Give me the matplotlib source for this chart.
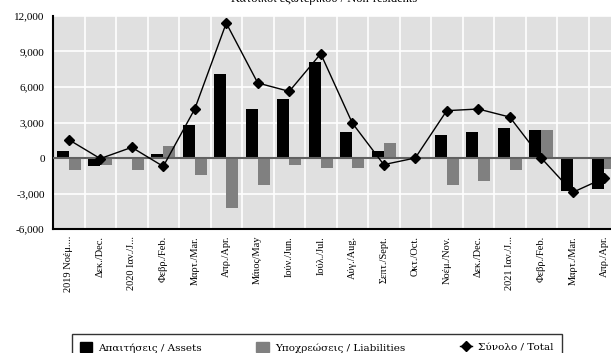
import numpy as np
import matplotlib.pyplot as plt
from matplotlib.patches import Patch
from matplotlib.lines import Line2D
from matplotlib.ticker import FuncFormatter, MultipleLocator

plt.rcParams['font.family'] = ['Liberation Serif', 'DejaVu Serif']

# μήνες / months
labels = ['2019 Νοέμ....', 'Δεκ./Dec.', '2020 Ιαν./J...', 'Φεβρ./Feb.', 'Μαρτ./Mar.',
          'Απρ./Apr.', 'Μάιος/May', 'Ιούν./Jun.', 'Ιούλ./Jul.', 'Αύγ./Aug.',
          'Σεπτ./Sept.', 'Οκτ./Oct.', 'Νοέμ./Nov.', 'Δεκ./Dec.', '2021 Ιαν./J...',
          'Φεβρ./Feb.', 'Μαρτ./Mar.', 'Απρ./Apr.']
assets = [620, -700, 0, 370, 2820, 7120, 4170, 5010, 8080, 2220,
          620, 0, 1970, 2220, 2560, 2330, -2820, -2650]
liabilities = [-990, -570, -990, 1040, -1410, -4230, -2250, -560, -880, -880,
               1290, 0, -2250, -1980, -990, 2330, 0, -930]
total = [1550, -50, 900, -710, 4140, 11400, 6340, 5630, 8810, 2960,
         -560, 0, 4000, 4140, 3460, 0, -2900, -1690]

title = 'Κάτοικοι εξωτερικού / Non-residents'

fig = plt.figure(figsize=(6.11, 3.53), dpi=100)
ax = fig.add_axes([53/611, 1 - 229/353, 567/611, 213/353])
ax.set_facecolor('#e0e0e0')

x = np.arange(len(labels))
w = 0.38
ax.bar(x - w/2, assets, w, color='black', zorder=3)
ax.bar(x + w/2, liabilities, w, color='#808080', zorder=3)
ax.axhline(0, color='#606060', lw=1.5, zorder=4)
ax.plot(x, total, color='black', lw=1, marker='D', ms=5, zorder=5)

ax.set_xlim(-0.5, len(labels) - 0.5)
ax.set_ylim(-6000, 12000)
ax.yaxis.set_major_locator(MultipleLocator(3000))
ax.yaxis.set_major_formatter(FuncFormatter(lambda v, p: f'{int(v):,}'))
ax.set_xticks(x)
ax.set_xticklabels(labels, rotation=90, fontsize=7.5)
ax.set_xticks(np.arange(-0.5, len(labels), 1), minor=True)
ax.tick_params(axis='both', which='both', length=0)
ax.tick_params(axis='y', labelsize=8, pad=6)
ax.tick_params(axis='x', pad=5)
ax.grid(True, which='minor', axis='x', color='white', lw=1.2, zorder=0)
ax.grid(True, which='major', axis='y', color='white', lw=1.2, zorder=0)
ax.set_axisbelow(True)
for s in ['top', 'right']:
    ax.spines[s].set_visible(False)
ax.spines['left'].set_linewidth(1.5)
ax.spines['bottom'].set_linewidth(1.5)

# τίτλος κομμένος στο πάνω άκρο όπως στο πρωτότυπο
fig.text(0.53, 1.004, title, ha='center', va='center', fontsize=9)

handles = [Patch(color='black'), Patch(color='#808080'),
           Line2D([], [], color='black', lw=1, marker='D', ms=5)]
names = ['Απαιτήσεις / Assets', 'Υποχρεώσεις / Liabilities', 'Σύνολο / Total']
leg = fig.legend(handles, names, loc='upper left', bbox_to_anchor=(72/611, 1 - 334/353),
                 ncol=3, frameon=True, fancybox=False, edgecolor='black',
                 prop={'family': 'DejaVu Serif', 'size': 7.5},
                 handlelength=1.2, handleheight=1.2, columnspacing=5.2,
                 borderpad=0.75, handletextpad=0.6, borderaxespad=0)
leg.get_frame().set_linewidth(1)

fig.savefig('out.png', dpi=100)
